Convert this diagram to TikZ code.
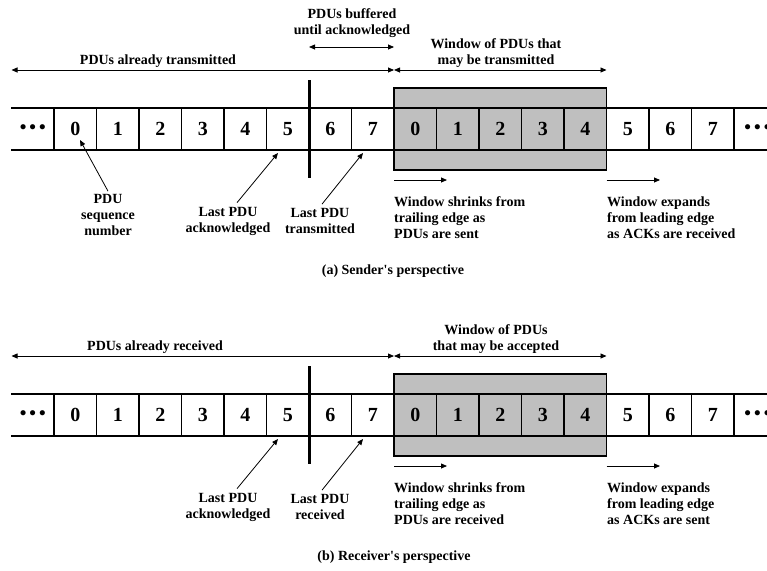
\documentclass[tikz,border=0pt]{standalone}
\usepackage{fontspec}
\setmainfont{Liberation Serif}
\usetikzlibrary{positioning,arrows.meta}

\begin{document}
\begin{tikzpicture}[x=1pt, y=-1pt, every node/.style={font=\fontsize{14}{16}\selectfont\bfseries}]
\tikzstyle{cell}=[draw, line width=1.6pt, minimum width=42.5pt, minimum height=42pt, inner sep=0pt, font=\fontsize{20}{20}\selectfont\bfseries]
\tikzstyle{dots}=[minimum width=42.5pt, minimum height=42pt, inner sep=0pt, font=\fontsize{19}{19}\selectfont\bfseries]
\tikzstyle{win}=[draw, line width=1.6pt, fill=gray!50, minimum width=212.5pt, minimum height=82pt, inner sep=0pt]
\tikzstyle{strip}=[line width=1.6pt]
\tikzstyle{bar}=[line width=3pt]
\tikzstyle{span}=[{Triangle[length=6pt,width=5pt]}-{Triangle[length=6pt,width=5pt]}, line width=0.8pt]
\tikzstyle{ptr}=[-{Triangle[length=6pt,width=5pt]}, line width=0.8pt]
\tikzstyle{lbl}=[align=center, inner sep=0pt]
\tikzstyle{note}=[align=left, anchor=west, inner sep=0pt]
\useasboundingbox (0,0) rectangle (767,570);

% the two sequence strips
\foreach \p/\dy in {a/0,b/286}{
\begin{scope}[yshift=-\dy pt]
\node[win] (\p win) at (500.25,129) {};
\node[dots] (\p0) at (32.75,129) {\raisebox{-2pt}{•\hspace{3pt}•\hspace{3pt}•}};
\foreach \n [count=\k] in {0,1,2,3,4,5,6,7,0,1,2,3,4,5,6,7}
  \node[cell] (\p\k) at ({32.75+42.5*\k},129) {\n};
\node[dots, anchor=west] (\p17) at (736,129) {\raisebox{-2pt}{•\hspace{3pt}•\hspace{3pt}•}};
\draw[strip] (\p0.north west) -- (\p17.north east);
\draw[strip] (\p0.south west) -- (\p17.south east);
\draw[bar] ([yshift=27pt]\p6.north east) -- ([yshift=-27pt]\p6.south east);
\coordinate (\p l) at (11.5,70);
\coordinate (\p m) at (394,70);
\coordinate (\p r) at (606.5,70);
\draw[span] (\p l) -- (\p m);
\draw[span] (\p m) -- (\p r);
\coordinate (\p s0) at (394,180);
\coordinate (\p s1) at (447,180);
\coordinate (\p e0) at (606.5,180);
\coordinate (\p e1) at (660,180);
\draw[ptr] (\p s0) -- (\p s1);
\draw[ptr] (\p e0) -- (\p e1);
\node[lbl] (\p ack) at (228,221) {Last PDU\\acknowledged};
\coordinate (\p acktip) at (278,153);
\draw[ptr] ([xshift=9pt,yshift=4pt]\p ack.north) -- (\p acktip);
\coordinate (\p lasttip) at (363,153);
\end{scope}
}

% sender
\coordinate (bf0) at (309,47);
\coordinate (bf1) at (394,47);
\draw[span] (bf0) -- (bf1);
\node[lbl] (buf) at (352,23) {PDUs buffered\\until acknowledged};
\node[lbl] (sent) at (158,61) {PDUs already transmitted};
\node[lbl] (awtxt) at (496,53) {Window of PDUs that\\may be transmitted};
\node[lbl] (seq) at (108,215) {PDU\\sequence\\number};
\coordinate (seqtip) at (80,140);
\draw[ptr] ([yshift=3pt]seq.north) -- (seqtip);
\node[lbl] (tx) at (320,221) {Last PDU\\transmitted};
\draw[ptr] ([xshift=2pt,yshift=4pt]tx.north) -- (alasttip);
\node[note] (ashrink) at (394,218) {Window shrinks from\\trailing edge as\\PDUs are sent};
\node[note] (aexpand) at (607,218) {Window expands\\from leading edge\\as ACKs are received};
\node[lbl] (capa) at (393,271) {(a) Sender\textquotesingle s perspective};

% receiver
\node[lbl] (recd) at (155,347) {PDUs already received};
\node[lbl] (bwtxt) at (496,339) {Window of PDUs\\that may be accepted};
\node[lbl] (rx) at (320,507) {Last PDU\\received};
\draw[ptr] ([xshift=2pt,yshift=4pt]rx.north) -- (blasttip);
\node[note] (bshrink) at (394,504) {Window shrinks from\\trailing edge as\\PDUs are received};
\node[note] (bexpand) at (607,504) {Window expands\\from leading edge\\as ACKs are sent};
\node[lbl] (capb) at (394,557) {(b) Receiver\textquotesingle s perspective};
\end{tikzpicture}
\end{document}
